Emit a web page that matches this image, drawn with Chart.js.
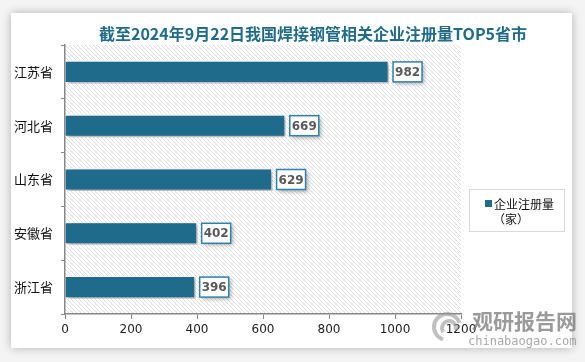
<!DOCTYPE html>
<html>
<head>
<meta charset="utf-8">
<script src="https://cdn.jsdelivr.net/npm/chart.js@4/dist/chart.umd.min.js"></script>
<style>
  html, body { margin: 0; padding: 0; background: #f2f2f2; }
  .wrap { position: relative; width: 585px; height: 362px; overflow: hidden; background: #f4f4f4; }
  .card {
    position: absolute; left: 11px; top: 13px; width: 561px; height: 335px;
    background: #fff; box-shadow: 0 0 9px rgba(0,0,0,0.28);
  }
  canvas { position: absolute; left: 0; top: 0; }
</style>
</head>
<body>
<div class="wrap">
  <div class="card"></div>
  <canvas id="chart" width="585" height="362"></canvas>
</div>
<script>
// 데이터
const provinces = ['江苏省', '河北省', '山东省', '安徽省', '浙江省'];
const counts = [982, 669, 629, 402, 396];
const seriesName = ['企业注册量', '（家）'];
const titleText = '截至2024年9月22日我国焊接钢管相关企业注册量TOP5省市';
const xMin = 0, xMax = 1200, xStep = 200;

const BLUE = '#1f6b8c';
const CJK = '"Noto Sans CJK SC", "Noto Sans", sans-serif';

// 사선 무늬 배경
function makeHatch() {
  const c = document.createElement('canvas');
  c.width = 4; c.height = 4;
  const g = c.getContext('2d');
  g.fillStyle = '#ffffff';
  g.fillRect(0, 0, 4, 4);
  g.strokeStyle = '#dedede';
  g.lineWidth = 1;
  g.beginPath();
  g.moveTo(0, 0); g.lineTo(4, 4);
  g.moveTo(-1, 3); g.lineTo(1, 5);
  g.moveTo(3, -1); g.lineTo(5, 1);
  g.stroke();
  return c;
}

const decor = {
  id: 'decor',
  beforeDraw(chart) {
    const { ctx, chartArea: a } = chart;
    ctx.save();
    ctx.fillStyle = ctx.createPattern(makeHatch(), 'repeat');
    ctx.fillRect(a.left, a.top, a.right - a.left, a.bottom - a.top);
    ctx.restore();

    // 제목
    ctx.save();
    ctx.font = 'bold 16px "Noto Sans CJK SC", sans-serif';
    ctx.fillStyle = BLUE;
    ctx.textAlign = 'center';
    ctx.textBaseline = 'middle';
    ctx.fillText(titleText, 313, 34);
    ctx.restore();

    // 범례
    ctx.save();
    ctx.fillStyle = '#fff';
    ctx.strokeStyle = '#d9d9d9';
    ctx.lineWidth = 1;
    ctx.fillRect(469.5, 189.5, 95, 42);
    ctx.strokeRect(469.5, 189.5, 95, 42);
    ctx.fillStyle = BLUE;
    ctx.fillRect(485, 200, 7, 7);
    ctx.fillStyle = '#111';
    ctx.font = '12px ' + CJK;
    ctx.textBaseline = 'middle';
    ctx.fillText(seriesName[0], 494, 204);
    ctx.fillText(seriesName[1], 493, 219);
    ctx.restore();
  },
  beforeDatasetsDraw(chart) {
    const ctx = chart.ctx;
    ctx.save();
    ctx.shadowColor = 'rgba(0,0,0,0.35)';
    ctx.shadowBlur = 4;
    ctx.shadowOffsetX = 2;
    ctx.shadowOffsetY = 2;
  },
  afterDatasetsDraw(chart) {
    const ctx = chart.ctx;
    ctx.restore();

    // 데이터 라벨
    const meta = chart.getDatasetMeta(0);
    meta.data.forEach((bar, i) => {
      const txt = String(chart.data.datasets[0].data[i]);
      const w = 29, h = 20;
      const x = bar.x + 4, y = bar.y - h / 2;
      ctx.save();
      ctx.shadowColor = 'rgba(0,0,0,0.3)';
      ctx.shadowBlur = 4;
      ctx.shadowOffsetX = 2;
      ctx.shadowOffsetY = 2;
      ctx.fillStyle = '#fff';
      ctx.fillRect(x, y, w, h);
      ctx.restore();
      ctx.save();
      ctx.strokeStyle = '#2e82ad';
      ctx.lineWidth = 1.5;
      ctx.strokeRect(x, y, w, h);
      ctx.fillStyle = '#595959';
      ctx.font = 'bold 12px "DejaVu Sans", sans-serif';
      ctx.textAlign = 'center';
      ctx.textBaseline = 'middle';
      ctx.fillText(txt, x + w / 2, y + h / 2 + 1);
      ctx.restore();
    });

    // 워터마크
    ctx.save();
    ctx.fillStyle = 'rgba(120,120,120,0.75)';
    ctx.font = 'bold 21px ' + CJK;
    ctx.textBaseline = 'middle';
    ctx.fillText('观研报告网', 472, 321);
    ctx.fillStyle = 'rgba(140,140,140,0.75)';
    ctx.font = '12px "DejaVu Sans Mono", monospace';
    ctx.fillText('chinabaogao.com', 468, 342);
    ctx.strokeStyle = 'rgba(150,150,150,0.6)';
    ctx.lineWidth = 4;
    ctx.beginPath();
    ctx.arc(447, 327, 13, Math.PI * 0.6, Math.PI * 1.9);
    ctx.stroke();
    ctx.beginPath();
    ctx.arc(449, 328, 7, Math.PI * 0.8, Math.PI * 2.1);
    ctx.stroke();
    ctx.restore();
  }
};

const chart = new Chart(document.getElementById('chart').getContext('2d'), {
  type: 'bar',
  data: {
    labels: provinces,
    datasets: [{
      label: seriesName.join(''),
      data: counts,
      backgroundColor: BLUE,
      borderColor: '#ffffff',
      borderWidth: { top: 1.5, right: 1.5, bottom: 1.5, left: 0 },
      borderSkipped: false,
      barPercentage: 0.86,
      categoryPercentage: 0.5,
    }],
  },
  options: {
    indexAxis: 'y',
    responsive: false,
    animation: false,
    layout: { padding: { left: 0, top: 45, right: 124, bottom: 0 } },
    plugins: {
      legend: { display: false },
      title: { display: false },
      tooltip: { enabled: false },
    },
    scales: {
      x: {
        min: xMin,
        max: xMax,
        ticks: {
          stepSize: xStep,
          color: '#222',
          font: { size: 12, family: '"DejaVu Sans", sans-serif' },
          padding: 4,
          callback: v => String(v),
        },
        grid: { drawOnChartArea: false, color: '#888', tickLength: 5 },
        border: { color: '#888', width: 1.5 },
        afterFit(s) { s.height = 48; },
      },
      y: {
        ticks: { color: '#111', font: { size: 13, family: CJK }, padding: 8 },
        grid: { drawOnChartArea: false, color: '#888', tickLength: 4 },
        border: { color: '#888', width: 1.5 },
        afterFit(s) { s.width = 65; },
      },
    },
  },
  plugins: [decor],
});
</script>
</body>
</html>
